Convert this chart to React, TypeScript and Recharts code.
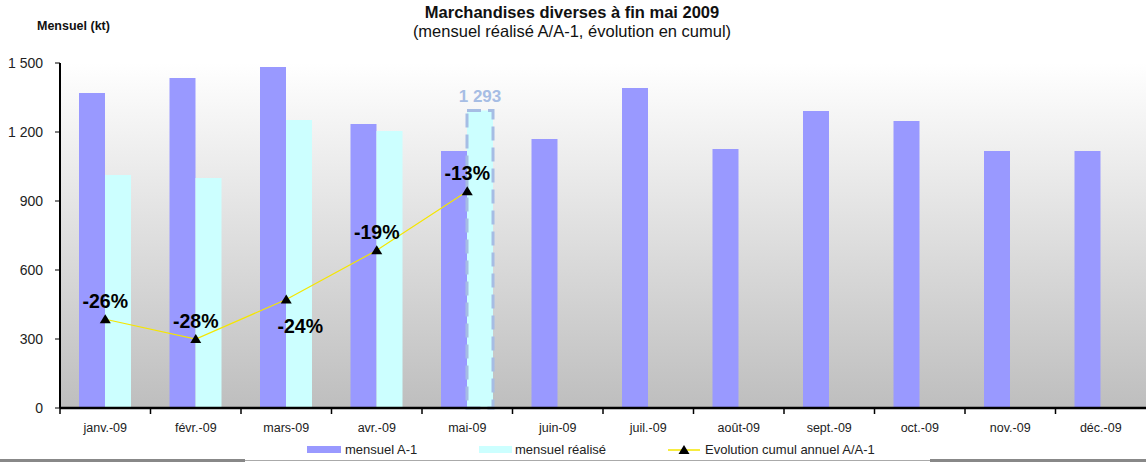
import React from "react";
import {
  ComposedChart,
  Bar,
  Line,
  XAxis,
  YAxis,
  CartesianGrid,
  Cell,
  LabelList,
} from "recharts";

const months = [
  "janv.-09", "févr.-09", "mars-09", "avr.-09", "mai-09", "juin-09",
  "juil.-09", "août-09", "sept.-09", "oct.-09", "nov.-09", "déc.-09",
];
const mensuelA1 = [1370, 1435, 1483, 1235, 1117, 1170, 1391, 1126, 1291, 1248, 1117, 1117];
const mensuelRealise = [1013, 1000, 1252, 1204, 1293, null, null, null, null, null, null, null];
const evolution = [-26, -28, -24, -19, -13, null, null, null, null, null, null, null];
const evolutionLabelSide = ["top", "top", "bottom", "top", "top"];
const yTicks = [0, 300, 600, 900, 1200, 1500];
const highlightIndex = 4;

const data = months.map((m, i) => ({
  month: m,
  a1: mensuelA1[i],
  real: mensuelRealise[i],
  evo: evolution[i],
}));

const W = 1146;
const H = 463;
const PLOT_LEFT = 60;
const HALF_BAND = (W - PLOT_LEFT) / 24;

const fmt = (v: number) => String(v).replace(/\B(?=(\d{3})+(?!\d))/g, " ");

const font = "Arial, 'Liberation Sans', sans-serif";

const XTick = (props: any) => {
  const { x, y, payload } = props;
  return (
    <g>
      <line x1={x - HALF_BAND} x2={x - HALF_BAND} y1={y - 6} y2={y} stroke="#000" strokeWidth={1.5} />
      <text
        x={x}
        y={y + 14}
        textAnchor="middle"
        dominantBaseline="central"
        fontFamily={font}
        fontSize={12.5}
        fill="#222"
      >
        {payload.value}
      </text>
    </g>
  );
};

const Triangle = (props: any) => {
  const { cx, cy } = props;
  if (cx == null || cy == null || props.value == null) return <g />;
  return (
    <polygon
      points={`${cx},${cy - 5} ${cx - 5.5},${cy + 4} ${cx + 5.5},${cy + 4}`}
      fill="#000"
    />
  );
};

const EvoLabel = (props: any) => {
  const { x, y, value, index } = props;
  if (value == null) return null;
  const side = evolutionLabelSide[index] || "top";
  const dx = side === "bottom" ? 14 : 0;
  const ly = side === "bottom" ? y + 26 : y - 18;
  return (
    <text
      x={x + dx}
      y={ly}
      textAnchor="middle"
      dominantBaseline="central"
      fontFamily={font}
      fontWeight="bold"
      fontSize={19.5}
      fill="#000"
    >
      {`${value}%`}
    </text>
  );
};

const RealLabel = (props: any) => {
  const { x, y, width, value, index } = props;
  if (index !== highlightIndex || value == null) return null;
  return (
    <text
      x={x + width / 2}
      y={y - 14}
      textAnchor="middle"
      dominantBaseline="central"
      fontFamily={font}
      fontWeight="bold"
      fontSize={17}
      fill="#a6bde4"
    >
      {fmt(value)}
    </text>
  );
};

export default function App() {
  return (
    <div style={{ position: "relative", width: W, height: H, background: "#fff", fontFamily: font }}>
      <style>{"body{margin:0}"}</style>
      <div
        style={{
          position: "absolute",
          left: 0,
          width: 1144,
          top: 2,
          textAlign: "center",
          fontSize: 16.5,
          fontWeight: "bold",
          color: "#111",
          lineHeight: "20px",
        }}
      >
        Marchandises diverses à fin mai 2009
      </div>
      <div
        style={{
          position: "absolute",
          left: 0,
          width: 1144,
          top: 21,
          textAlign: "center",
          fontSize: 16.5,
          color: "#111",
          lineHeight: "20px",
        }}
      >
        (mensuel réalisé A/A-1, évolution en cumul)
      </div>
      <div
        style={{
          position: "absolute",
          left: 37,
          top: 19,
          fontSize: 12.5,
          fontWeight: "bold",
          color: "#111",
          lineHeight: "15px",
        }}
      >
        Mensuel (kt)
      </div>
      <div style={{ position: "absolute", left: 0, top: 0 }}>
        <ComposedChart
          width={W}
          height={H}
          data={data}
          margin={{ top: 63, right: 0, bottom: 0, left: 0 }}
          barCategoryGap="21%"
          barGap={0}
        >
          <defs>
            <linearGradient id="bgGrad" x1="0" y1="0" x2="0" y2="1">
              <stop offset="0%" stopColor="#ffffff" />
              <stop offset="100%" stopColor="#bebebe" />
            </linearGradient>
          </defs>
          <CartesianGrid horizontal={false} vertical={false} fill="url(#bgGrad)" fillOpacity={1} />
          <XAxis
            dataKey="month"
            height={55}
            axisLine={{ stroke: "#000", strokeWidth: 2.5 }}
            tickLine={false}
            tickSize={6}
            tickMargin={0}
            tick={<XTick />}
            interval={0}
          />
          <YAxis
            yAxisId="left"
            width={60}
            domain={[0, 1500]}
            ticks={yTicks}
            tickFormatter={fmt}
            axisLine={{ stroke: "#000", strokeWidth: 2 }}
            tickLine={{ stroke: "#000" }}
            tickSize={5}
            tickMargin={12}
            tick={{ fontSize: 14, fill: "#222", fontFamily: font }}
          />
          <YAxis yAxisId="pct" orientation="right" hide domain={[-35, 0]} width={0} />
          <Bar yAxisId="left" dataKey="a1" fill="#9999ff" isAnimationActive={false} />
          <Bar yAxisId="left" dataKey="real" fill="#ccffff" isAnimationActive={false}>
            {data.map((_, i) => (
              <Cell
                key={i}
                fill="#ccffff"
                stroke={i === highlightIndex ? "#a6bde4" : "none"}
                strokeWidth={i === highlightIndex ? 3 : 0}
                strokeDasharray={i === highlightIndex ? "14 7" : undefined}
              />
            ))}
            <LabelList dataKey="real" content={<RealLabel />} />
          </Bar>
          <Line
            yAxisId="pct"
            dataKey="evo"
            stroke="#f5e600"
            strokeWidth={1.2}
            dot={<Triangle />}
            activeDot={false}
            isAnimationActive={false}
            connectNulls={false}
          >
            <LabelList dataKey="evo" content={<EvoLabel />} />
          </Line>
        </ComposedChart>
      </div>
      <div style={{ position: "absolute", top: 442, left: 0, height: 16, width: W, fontSize: 13, color: "#222" }}>
        <div style={{ position: "absolute", left: 307, top: 4, width: 34, height: 7, background: "#9999ff" }} />
        <div style={{ position: "absolute", left: 345, top: 0, lineHeight: "15px" }}>mensuel A-1</div>
        <div style={{ position: "absolute", left: 479, top: 4, width: 33, height: 7, background: "#ccffff" }} />
        <div style={{ position: "absolute", left: 515, top: 0, lineHeight: "15px" }}>mensuel réalisé</div>
        <svg style={{ position: "absolute", left: 666, top: 0 }} width={36} height={16}>
          <line x1={2} x2={34} y1={8} y2={8} stroke="#f5e600" strokeWidth={1.5} />
          <polygon points="18,3 12.5,12 23.5,12" fill="#000" />
        </svg>
        <div style={{ position: "absolute", left: 705, top: 0, lineHeight: "15px" }}>Evolution cumul annuel A/A-1</div>
      </div>
      <div style={{ position: "absolute", left: 0, top: 459, width: 245, height: 3, background: "#888" }} />
      <div style={{ position: "absolute", left: 245, top: 460, width: 685, height: 1, background: "#aaa" }} />
      <div style={{ position: "absolute", left: 930, top: 459, width: W - 930, height: 3, background: "#888" }} />
    </div>
  );
}
